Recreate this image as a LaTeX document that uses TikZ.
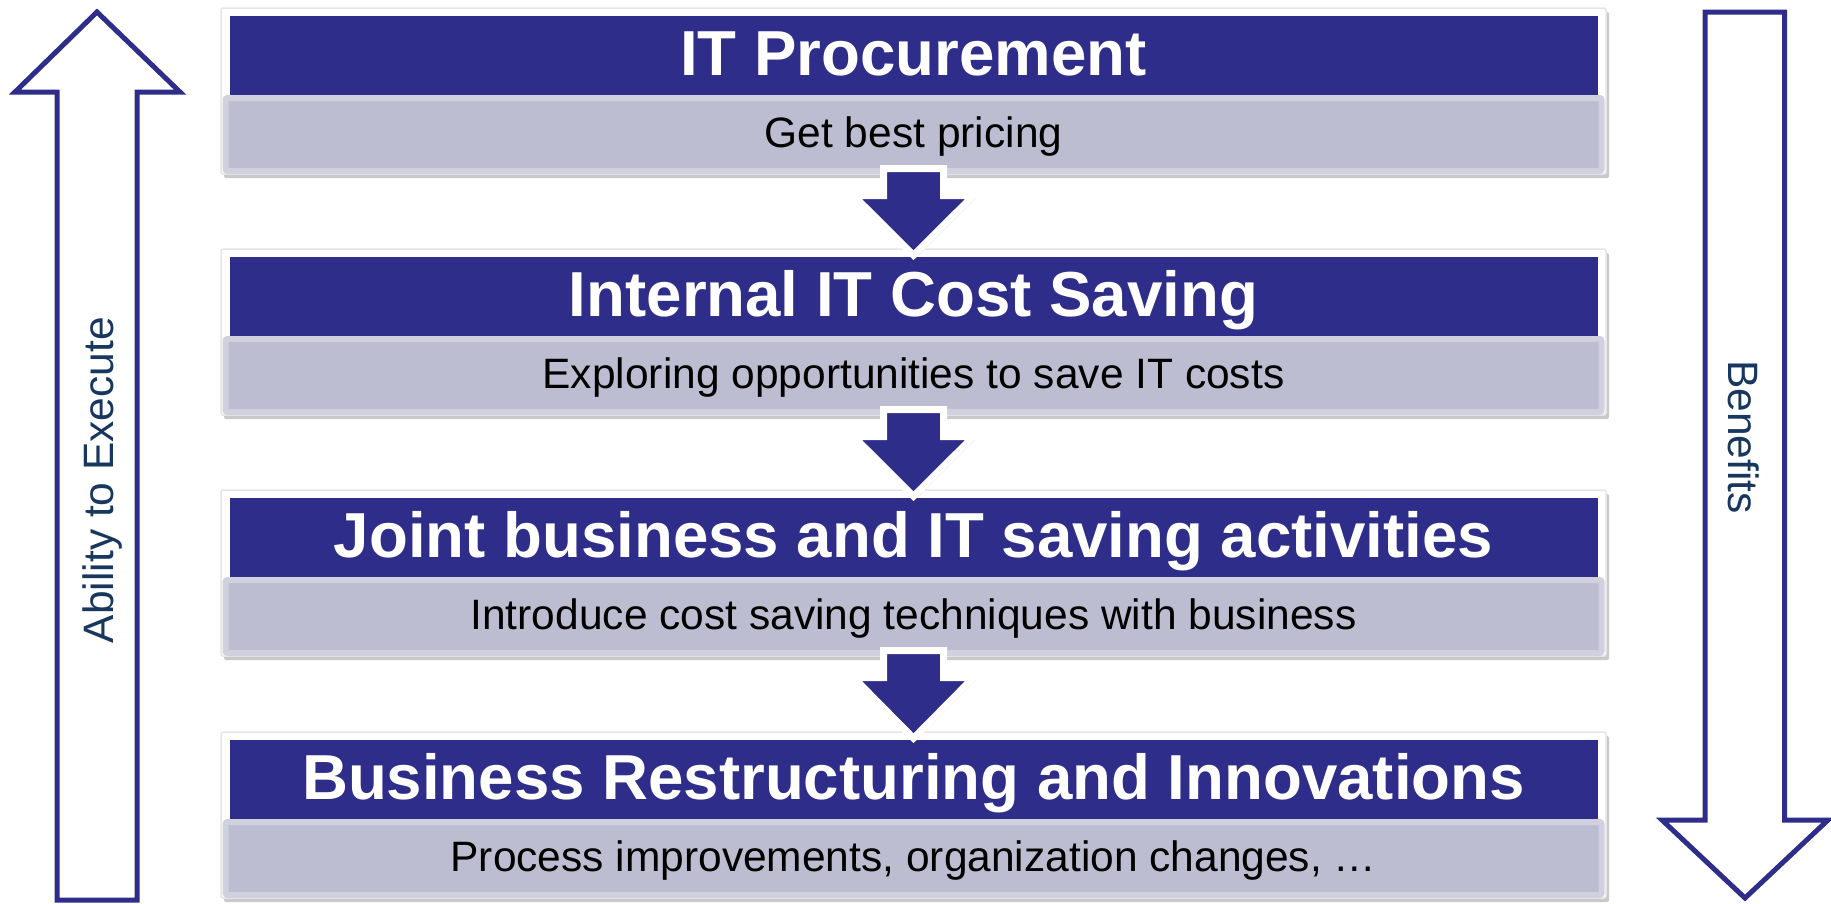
\documentclass[tikz,border=0pt]{standalone}
\usepackage{fontspec}
\setmainfont{Liberation Sans}
\usetikzlibrary{positioning, calc, shadows}

\definecolor{itblue}{RGB}{46,45,137}
\definecolor{itlight}{RGB}{188,189,208}
\definecolor{itlightline}{RGB}{208,208,222}
\definecolor{labelblue}{RGB}{23,55,94}

\newcommand{\titlesize}{\fontsize{63.6pt}{70pt}\selectfont\bfseries}
\newcommand{\subsize}{\fontsize{42.5pt}{48pt}\selectfont}

\tikzset{
    frame/.style={draw=gray!20, line width=1.5pt, fill=white, rounded corners=2pt,
        minimum width=1385pt, minimum height=166pt, inner sep=0pt,
        drop shadow={shadow xshift=3pt, shadow yshift=-4pt, fill=gray!60, opacity=0.7}},
    titleband/.style={fill=itblue, text=white, font=\titlesize, inner sep=0pt,
        minimum width=1368pt, minimum height=79pt, text height=45.5pt, text depth=6.5pt},
    subband/.style={fill=itlight, draw=itlightline, line width=6pt, font=\subsize, inner sep=0pt,
        rounded corners=2pt, minimum width=1376pt, minimum height=73pt, text height=30pt, text depth=5pt},
    fatarrow/.style={fill=itblue, draw=white, line width=7pt, line join=miter,
        drop shadow={shadow xshift=2pt, shadow yshift=-3pt, fill=gray!60, opacity=0.6}},
    sidearrow/.style={draw=itblue, line width=5pt, line join=miter},
    sidelabel/.style={text=labelblue, font=\subsize, inner sep=0pt, text height=30pt, text depth=5pt}
}

\begin{document}
\begin{tikzpicture}[x=1pt, y=-1pt]
    \useasboundingbox (0,0) rectangle (1831,903);

    % the four steps
    \node[frame] (f1) at (913.5,91) {};
    \node[titleband] (t1) at (913.5,55.5) {IT Procurement};
    \node[subband] (s1) at (913.5,134.5) {Get best pricing};

    \node[frame] (f2) at (913.5,332) {};
    \node[titleband] (t2) at (913.5,296.5) {Internal IT Cost Saving};
    \node[subband] (s2) at (913.5,375.5) {Exploring opportunities to save IT costs};

    \node[frame] (f3) at (913.5,573) {};
    \node[titleband] (t3) at (913.5,537.5) {Joint business and IT saving activities};
    \node[subband] (s3) at (913.5,616.5) {Introduce cost saving techniques with business};

    \node[frame] (f4) at (913.5,815) {};
    \node[titleband] (t4) at (913.5,779.5) {Business Restructuring and Innovations};
    \node[subband] (s4) at (913.5,858.5) {Process improvements, organization changes, …};

    % arrows between the steps
    \draw[fatarrow] ($(s1.south)+(-30,-5.5)$) -- ($(s1.south)+(30,-5.5)$) -- ($(s1.south)+(30,21.5)$)
        -- ($(s1.south)+(60,21.5)$) -- ($(f2.north)+(0,7)$) -- ($(s1.south)+(-60,21.5)$)
        -- ($(s1.south)+(-30,21.5)$) -- cycle;
    \draw[fatarrow] ($(s2.south)+(-30,-5.5)$) -- ($(s2.south)+(30,-5.5)$) -- ($(s2.south)+(30,21.5)$)
        -- ($(s2.south)+(60,21.5)$) -- ($(f3.north)+(0,7)$) -- ($(s2.south)+(-60,21.5)$)
        -- ($(s2.south)+(-30,21.5)$) -- cycle;
    \draw[fatarrow] ($(s3.south)+(-30,-5.5)$) -- ($(s3.south)+(30,-5.5)$) -- ($(s3.south)+(30,21.5)$)
        -- ($(s3.south)+(60,21.5)$) -- ($(f4.north)+(0,7)$) -- ($(s3.south)+(-60,21.5)$)
        -- ($(s3.south)+(-30,21.5)$) -- cycle;

    % side arrows
    \draw[sidearrow] (57,900) -- (57,92) -- (15,92) -- (97,12) -- (180,92) -- (137,92) -- (137,900) -- cycle;
    \draw[sidearrow] (1705,12) -- (1784.5,12) -- (1784.5,820) -- (1828,820) -- (1745,898) -- (1662,820) -- (1705,820) -- cycle;
    \node[sidelabel, rotate=90] (ability) at (100.5,480) {Ability to Execute};
    \node[sidelabel, rotate=-90] (benefits) at (1741,437) {Benefits};
\end{tikzpicture}
\end{document}
